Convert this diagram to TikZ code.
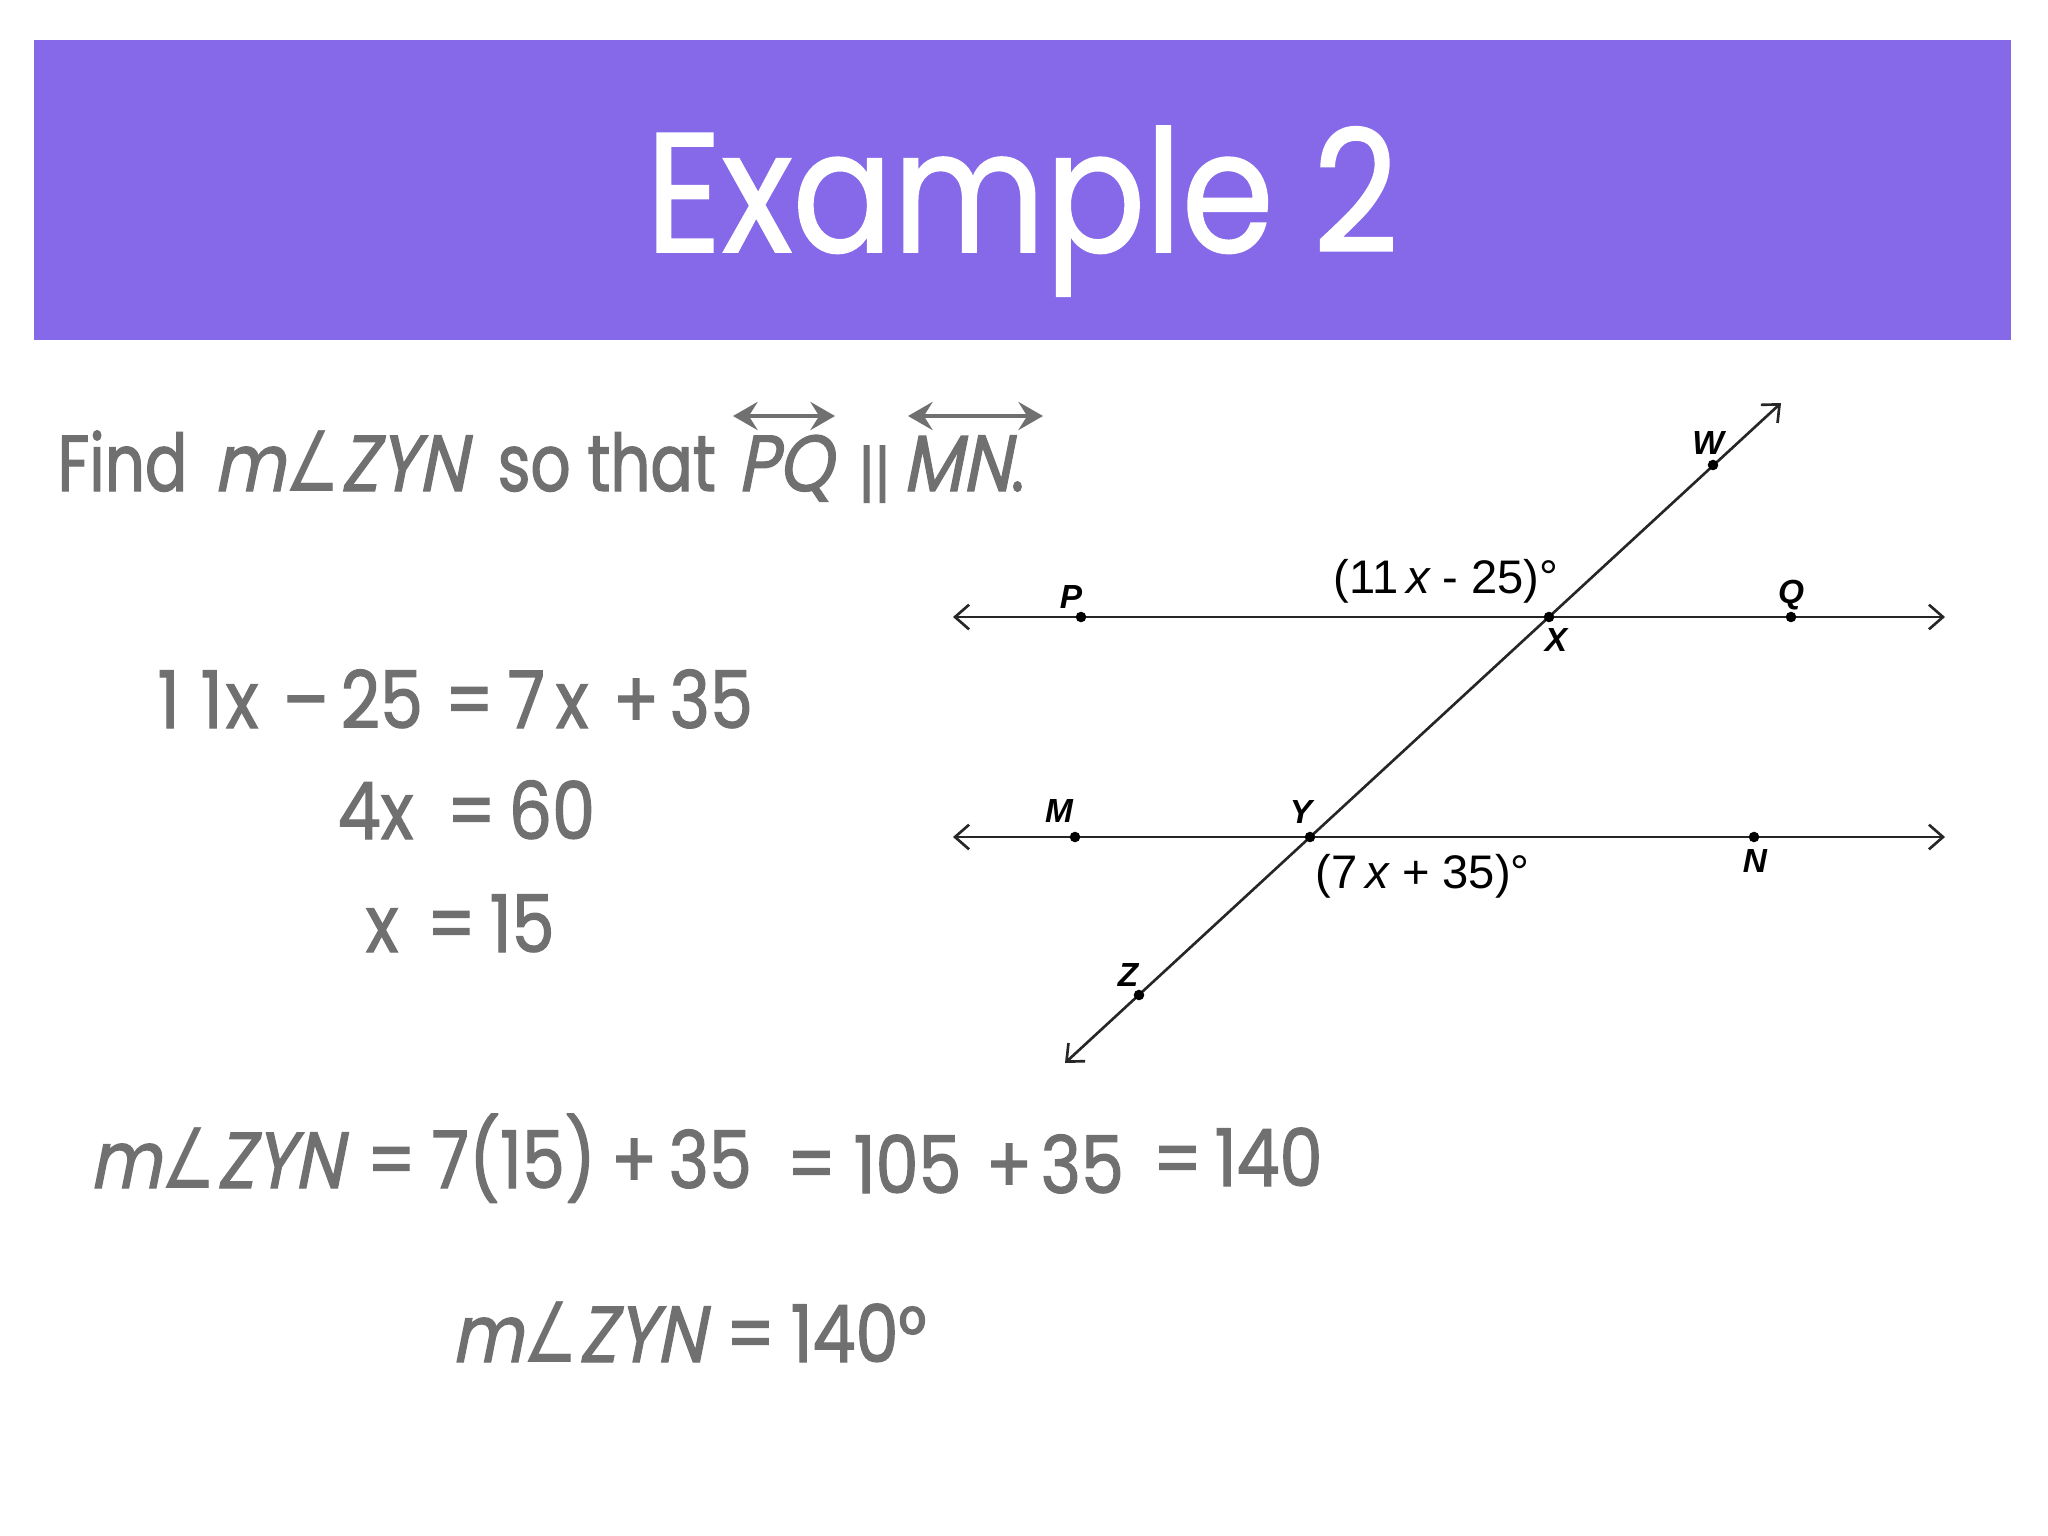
\documentclass[tikz,border=0pt]{standalone}
\usepackage{fontspec}
\usepackage{graphicx}
\setmainfont{Poppins}
\usetikzlibrary{arrows.meta}
\newfontfamily\fut[FakeStretch=0.86,FakeBold=1.5]{Poppins}
\newfontfamily\futw[FakeStretch=0.79,FakeBold=1.5]{Poppins}
\newfontfamily\futit[FakeStretch=0.87,FakeSlant=0.2,FakeBold=1.5]{Poppins}
\newfontfamily\futt[FakeStretch=0.87,FakeBold=1]{Poppins}
\newfontfamily\dvs{DejaVu Sans}
\newfontfamily\arl{Liberation Sans}
\definecolor{banner}{HTML}{8669E9}
\definecolor{txt}{HTML}{707070}
\newcommand{\angsym}{\scalebox{0.78}[1.05]{\dvs ∠}}
\newcommand{\mzyn}{{\futit m}\angsym{\futit ZYN}}
\begin{document}
\begin{tikzpicture}[x=0.01cm,y=-0.01cm,
  tok/.style={inner sep=0pt, anchor=base west, text=txt, font=\fut\fontsize{22.6}{26}\selectfont},
  wtok/.style={tok, font=\futw\fontsize{22.6}{26}\selectfont},
  geo/.style={line width=0.75pt, draw=black!85},
  dot/.style={circle, fill=black, inner sep=0pt, minimum size=3pt},
  lab/.style={inner sep=0pt, font=\arl\bfseries\itshape\fontsize{9.5}{11}\selectfont},
  anglab/.style={inner sep=0pt, anchor=base west, font=\arl\fontsize{13.4}{16}\selectfont},
  over/.style={line width=1.3pt, draw=txt, {Stealth[length=7pt,width=8pt,inset=2.5pt]}-{Stealth[length=7pt,width=8pt,inset=2.5pt]}},
  barb/.style={{Straight Barb[length=4pt,width=7pt]}-{Straight Barb[length=4pt,width=7pt]}}
]
\useasboundingbox (0,0) rectangle (2048,1536);
\fill[white] (0,0) rectangle (2048,1536);
\fill[banner] (34,40) rectangle (2011,340);
\node[inner sep=0pt, anchor=base, text=white, font=\futt\fontsize{48.4}{56}\selectfont] (title) at (1022,252) {Example 2};

% question line
\node[wtok] (find) at (57,491) {Find};
\node[wtok] (q1) at (213,491) {\mzyn};
\node[wtok] (sothat) at (497,491) {so that};
\node[wtok] (pq) at (737,491) {{\futit PQ}};
\node[inner sep=0pt, anchor=base west, text=txt, font=\fut\fontsize{18}{20}\selectfont] (par) at (858,496) {||};
\node[wtok] (mn) at (902,491) {{\futit MN}.};
\coordinate (pqa) at (733,416);
\coordinate (pqb) at (835,416);
\coordinate (mna) at (908,416);
\coordinate (mnb) at (1043,416);
\draw[over] (pqa) -- (pqb);
\draw[over] (mna) -- (mnb);

% equation line 1
\node[tok] (e1a) at (157,728) {1};
\node[tok] (e1a2) at (200,728) {1};
\node[tok] (e1a3) at (225,728) {x};
\node[tok] (e1b) at (282,728) {–};
\node[tok] (e1c) at (340,728) {25};
\node[tok] (e1d) at (444,728) {=};
\node[tok] (e1e) at (507,728) {7};
\node[tok] (e1e2) at (555,728) {x};
\node[tok] (e1f) at (612,728) {+};
\node[tok] (e1g) at (669,728) {35};
% line 2
\node[tok] (e2a) at (337,839) {4x};
\node[tok] (e2b) at (446,839) {=};
\node[tok] (e2c) at (508,839) {60};
% line 3
\node[tok] (e3a) at (365,952) {x};
\node[tok] (e3b) at (426,952) {=};
\node[tok] (e3c) at (489,952) {15};

% bottom line 1
\node[wtok] (b1) at (89,1188) {\mzyn};
\node[tok] (b2) at (366,1188) {=};
\node[tok] (b3) at (431,1188) {7(15)};
\node[tok] (b4) at (610,1188) {+};
\node[tok] (b5) at (668,1188) {35};
\node[tok] (b6) at (786,1192) {=};
\node[tok] (b7) at (853,1193) {105};
\node[tok] (b8) at (985,1193) {+};
\node[tok] (b9) at (1040,1193) {35};
\node[tok] (b10) at (1152,1187) {=};
\node[tok] (b11) at (1214,1186) {140};
% bottom line 2
\node[wtok] (c1) at (451,1362) {\mzyn};
\node[tok] (c2) at (725,1362) {=};
\node[tok] (c3) at (790,1362) {140°};

% diagram
\coordinate (pl) at (953,617);
\coordinate (qr) at (1945,617);
\coordinate (ml) at (953,837);
\coordinate (nr) at (1945,837);
\coordinate (zt) at (1065,1063);
\coordinate (wt) at (1781,403);
\draw[geo, barb] (pl) -- (qr);
\draw[geo, barb] (ml) -- (nr);
\draw[geo, barb] (zt) -- (wt);
\node[dot] (P) at (1081,617) {};
\node[dot] (X) at (1549,617) {};
\node[dot] (Q) at (1791,617) {};
\node[dot] (M) at (1075,837) {};
\node[dot] (Y) at (1310,837) {};
\node[dot] (N) at (1754,837) {};
\node[dot] (W) at (1713,465) {};
\node[dot] (Z) at (1139,995) {};
\node[lab] (lP) at (1071,597) {P};
\node[lab] (lQ) at (1791,595) {Q};
\node[lab] (lW) at (1708,443) {W};
\node[lab] (lX) at (1556,640) {X};
\node[lab] (lM) at (1059,811) {M};
\node[lab] (lY) at (1301,812) {Y};
\node[lab] (lN) at (1755,861) {N};
\node[lab] (lZ) at (1128,975) {Z};
\node[anglab] (a1) at (1333,593) {(11\,{\itshape x} - 25)°};
\node[anglab] (a2) at (1315,888) {(7\,{\itshape x} + 35)°};
\end{tikzpicture}
\end{document}
